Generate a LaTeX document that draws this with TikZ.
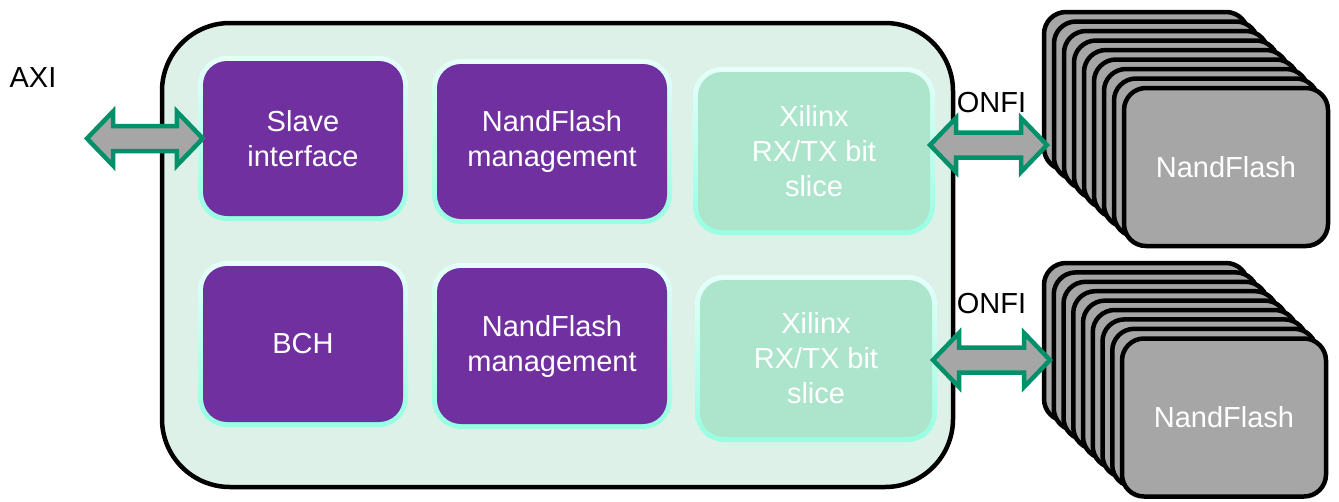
\documentclass[tikz,border=0pt]{standalone}
\usepackage{fontspec}
\setmainfont{Liberation Sans}
\usetikzlibrary{calc}
\definecolor{mainfill}{HTML}{DDF1E8}
\definecolor{purp}{HTML}{7030A0}
\definecolor{xil}{HTML}{ADE4CC}
\definecolor{glowtop}{HTML}{E6FFFA}
\definecolor{glowbot}{HTML}{96FFE2}
\definecolor{agreen}{HTML}{00916A}
\definecolor{fgray}{HTML}{A6A6A6}
\tikzset{
 txt/.style={font=\fontsize{29}{35}\selectfont, align=center, inner sep=0pt},
 purplebox/.style={txt, fill=purp, text=white, rounded corners=24pt},
 xilbox/.style={txt, fill=xil, text=white, rounded corners=24pt},
 glow/.style={top color=glowtop, bottom color=glowbot, rounded corners=29pt},
 card/.style={txt, draw=black, line width=4.5pt, fill=fgray, text=white, rounded corners=22pt, minimum width=204pt, minimum height=158pt},
 barrow/.style={draw=agreen, fill=fgray, line width=4.5pt, line join=miter},
 lbl/.style={txt, text=black},
}
\newcommand\mkbox[7]{%
 \path[glow] (#2-#4/2-5,#3-#5/2-5) rectangle (#2+#4/2+5,#3+#5/2+5);
 \node[#6, minimum width=#4pt, minimum height=#5pt] (#1) at (#2,#3) {#7};}
\newcommand\blockarr[2]{%
 \draw[barrow] let \p1=(#1), \p2=(#2) in
  (\x1,\y1) -- (\x1+26pt,\y1+27pt) -- (\x1+26pt,\y1+12.5pt) -- (\x2-26pt,\y2+12.5pt)
  -- (\x2-26pt,\y2+27pt) -- (\x2,\y2) -- (\x2-26pt,\y2-27pt) -- (\x2-26pt,\y2-12.5pt)
  -- (\x1+26pt,\y1-12.5pt) -- (\x1+26pt,\y1-27pt) -- cycle;}
\begin{document}
\begin{tikzpicture}[x=1pt,y=-1pt]
\useasboundingbox (0,0) rectangle (1339,501);
% main block
\node[draw=black, line width=4.5pt, fill=mainfill, rounded corners=68pt,
      minimum width=791pt, minimum height=464pt, inner sep=0pt] (main) at (557.5,255) {};
% inner blocks
\mkbox{slave}{303}{138.5}{200}{155}{purplebox}{Slave\\interface}
\mkbox{nfm1}{552}{141.5}{230}{155}{purplebox}{NandFlash\\management}
\mkbox{xil1}{814}{151}{232}{158}{xilbox}{Xilinx\\RX/TX bit\\slice}
\mkbox{bch}{303}{344}{200}{156}{purplebox}{BCH}
\mkbox{nfm2}{552}{346}{230}{156}{purplebox}{NandFlash\\management}
\mkbox{xil2}{816}{358.5}{232}{157}{xilbox}{Xilinx\\RX/TX bit\\slice}
% NandFlash stacks
\foreach \i in {0,...,7} {
  \node[card] (ca\i) at (1146+10*\i, 91+9.5*\i) {};
}
\node[card] (nf1) at (1226,167) {NandFlash};
\foreach \i in {0,...,7} {
  \node[card] (cb\i) at (1146+9.75*\i, 342+9.4*\i) {};
}
\node[card] (nf2) at (1224,417.5) {NandFlash};
% labels
\node[lbl] (axi) at (33,78) {AXI};
\node[lbl] (onfi1) at (991.5,102.5) {ONFI};
\node[lbl] (onfi2) at (991.5,304) {ONFI};
% arrows
\coordinate (axiL) at (87,138.5);
\coordinate (o1L) at (930,145);
\coordinate (o1R) at (1047,145);
\coordinate (o2L) at (933,360);
\coordinate (o2R) at (1050,360);
\blockarr{axiL}{slave.west}
\blockarr{o1L}{o1R}
\blockarr{o2L}{o2R}
\end{tikzpicture}
\end{document}
